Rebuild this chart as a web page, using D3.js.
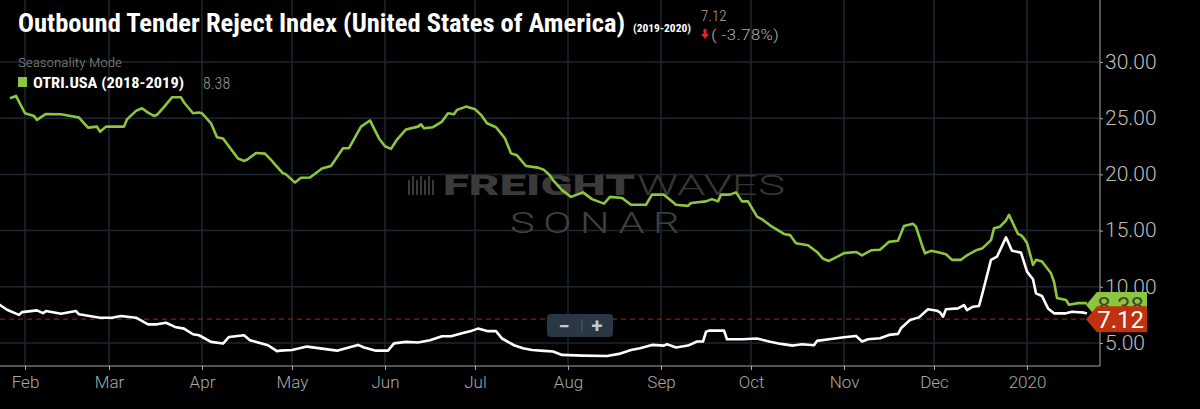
<!DOCTYPE html>
<html>
<head>
<meta charset="utf-8">
<script src="https://cdn.jsdelivr.net/npm/d3@7"></script>
<style>
  html, body { margin: 0; padding: 0; background: #000; }
  #chart { width: 1200px; height: 409px; }
  text { font-family: Roboto, "Liberation Sans", sans-serif; }
  .cond { font-family: "Roboto Condensed", "Liberation Sans Narrow", "DejaVu Sans Condensed", Roboto, sans-serif; }
</style>
</head>
<body>
<div id="chart"></div>
<script>
// --- Data ---
// Current season: OTRI.USA 2019-2020 (white line)
const currentDates = ["2019-01-23","2019-01-26","2019-01-30","2019-01-31","2019-02-05","2019-02-07","2019-02-08","2019-02-13","2019-02-18","2019-02-19","2019-02-26","2019-03-02","2019-03-05","2019-03-10","2019-03-14","2019-03-17","2019-03-20","2019-03-23","2019-03-26","2019-03-29","2019-03-31","2019-04-04","2019-04-08","2019-04-10","2019-04-15","2019-04-17","2019-04-23","2019-04-26","2019-04-27","2019-05-01","2019-05-06","2019-05-11","2019-05-16","2019-05-19","2019-05-23","2019-05-25","2019-05-29","2019-06-02","2019-06-04","2019-06-08","2019-06-12","2019-06-16","2019-06-20","2019-06-23","2019-06-27","2019-06-30","2019-07-02","2019-07-05","2019-07-08","2019-07-10","2019-07-14","2019-07-17","2019-07-20","2019-07-24","2019-07-27","2019-07-30","2019-08-06","2019-08-14","2019-08-18","2019-08-22","2019-08-25","2019-08-29","2019-09-02","2019-09-03","2019-09-06","2019-09-10","2019-09-13","2019-09-15","2019-09-16","2019-09-17","2019-09-22","2019-09-23","2019-09-28","2019-10-03","2019-10-07","2019-10-11","2019-10-15","2019-10-18","2019-10-22","2019-10-23","2019-10-27","2019-11-01","2019-11-05","2019-11-07","2019-11-09","2019-11-13","2019-11-16","2019-11-19","2019-11-20","2019-11-23","2019-11-26","2019-11-29","2019-12-02","2019-12-03","2019-12-04","2019-12-05","2019-12-09","2019-12-11","2019-12-12","2019-12-14","2019-12-16","2019-12-17","2019-12-20","2019-12-22","2019-12-25","2019-12-27","2019-12-30","2020-01-01","2020-01-03","2020-01-04","2020-01-06","2020-01-08","2020-01-10","2020-01-14","2020-01-16","2020-01-20","2020-01-21"];
const currentValues = [8.5,7.96,7.5,7.75,7.9,7.66,7.84,7.6,7.84,7.55,7.25,7.25,7.4,7.25,6.66,6.66,6.8,6.43,6.28,5.78,5.69,5.1,4.95,5.54,5.69,5.25,4.8,4.27,4.32,4.38,4.68,4.5,4.32,4.53,4.83,4.6,4.32,4.32,4.97,5.1,5.05,5.25,5.6,5.6,5.9,6.1,6.28,6.06,6.06,5.4,4.8,4.53,4.38,4.3,4.24,3.94,3.88,3.85,4.03,4.38,4.53,4.83,4.77,4.89,4.6,4.77,5.13,5.13,6.0,6.1,6.1,5.33,5.33,5.4,5.13,4.92,4.77,4.89,4.8,5.19,5.33,5.51,5.63,5.13,5.33,5.42,5.72,5.81,6.31,7.05,7.28,8.0,7.87,7.73,7.34,8.0,8.08,8.38,7.93,8.23,8.29,9.27,12.39,12.68,14.4,13.2,13.04,11.35,10.67,9.42,9.18,8.08,7.64,7.64,7.78,7.7,7.62];

// Prior season: OTRI.USA 2018-2019, shifted onto the current calendar (green line)
const priorDates = ["2019-01-27","2019-01-29","2019-02-01","2019-02-04","2019-02-05","2019-02-08","2019-02-13","2019-02-19","2019-02-22","2019-02-25","2019-02-26","2019-02-28","2019-03-06","2019-03-07","2019-03-10","2019-03-12","2019-03-14","2019-03-16","2019-03-17","2019-03-19","2019-03-22","2019-03-25","2019-03-26","2019-03-29","2019-03-31","2019-04-01","2019-04-04","2019-04-06","2019-04-08","2019-04-13","2019-04-15","2019-04-16","2019-04-19","2019-04-22","2019-04-24","2019-04-25","2019-04-28","2019-04-29","2019-05-02","2019-05-04","2019-05-07","2019-05-11","2019-05-14","2019-05-18","2019-05-20","2019-05-24","2019-05-27","2019-05-30","2019-06-01","2019-06-03","2019-06-05","2019-06-08","2019-06-12","2019-06-13","2019-06-14","2019-06-17","2019-06-20","2019-06-22","2019-06-24","2019-06-25","2019-06-28","2019-07-01","2019-07-03","2019-07-05","2019-07-08","2019-07-11","2019-07-13","2019-07-15","2019-07-18","2019-07-22","2019-07-24","2019-07-26","2019-07-27","2019-07-30","2019-08-02","2019-08-06","2019-08-09","2019-08-13","2019-08-15","2019-08-19","2019-08-22","2019-08-27","2019-08-29","2019-09-02","2019-09-06","2019-09-10","2019-09-11","2019-09-16","2019-09-18","2019-09-20","2019-09-21","2019-09-24","2019-09-26","2019-09-28","2019-09-30","2019-10-03","2019-10-05","2019-10-08","2019-10-12","2019-10-14","2019-10-16","2019-10-20","2019-10-23","2019-10-25","2019-10-27","2019-10-30","2019-11-01","2019-11-05","2019-11-07","2019-11-10","2019-11-13","2019-11-16","2019-11-19","2019-11-21","2019-11-24","2019-11-25","2019-11-27","2019-11-28","2019-11-30","2019-12-02","2019-12-05","2019-12-07","2019-12-10","2019-12-12","2019-12-15","2019-12-17","2019-12-20","2019-12-21","2019-12-23","2019-12-25","2019-12-26","2019-12-29","2019-12-30","2019-12-31","2020-01-01","2020-01-03","2020-01-04","2020-01-06","2020-01-09","2020-01-10","2020-01-11","2020-01-14","2020-01-15","2020-01-18","2020-01-21"];
const priorValues = [26.77,26.98,25.44,25.2,24.85,25.38,25.35,25.06,24.16,24.25,23.8,24.25,24.25,24.9,25.65,25.88,25.5,25.2,25.3,25.9,26.86,26.86,26.4,25.44,25.5,25.44,24.55,23.3,23.2,21.42,21.2,21.3,21.9,21.85,21.3,20.98,20.1,20.0,19.27,19.7,19.73,20.53,20.75,22.33,22.33,24.25,24.8,23.2,22.5,22.27,23.1,24.0,24.25,24.45,24.1,24.2,24.7,25.44,25.35,25.74,26.03,25.8,25.3,24.55,24.2,23.2,21.87,21.7,20.75,20.6,20.4,19.9,19.5,18.6,18.0,18.4,17.8,17.4,18.0,17.9,17.3,17.3,18.2,18.2,17.3,17.2,17.45,17.6,17.8,17.6,18.2,18.2,18.4,17.6,17.6,16.24,15.95,15.35,14.7,14.6,13.87,13.7,13.1,12.5,12.3,12.7,13.0,13.1,12.8,13.25,13.3,14.0,14.1,15.4,15.6,15.35,13.7,12.98,13.2,13.1,12.9,12.4,12.4,12.8,13.25,13.4,14.15,15.2,15.35,15.9,16.4,14.7,14.6,14.3,13.9,11.95,12.4,12.25,11.2,10.45,9.0,8.83,8.4,8.55,8.55,8.38];

const yTicks = [5, 10, 15, 20, 25, 30];
const latestCurrent = 7.12;
const latestPrior = 8.38;
const changePct = -3.78;

const titleText = "Outbound Tender Reject Index (United States of America)";
const titleRange = "(2019-2020)";
const legendLabel = "OTRI.USA (2018-2019)";

// --- Layout ---
const W = 1200, H = 409;
const plotRight = 1100, plotBottom = 366;
const GREEN = "#8cc63f", RED = "#c0310f", GRID = "#1c2630", AXIS = "#a8a8a8";

const parse = d3.utcParse("%Y-%m-%d");
const current = currentDates.map((d, i) => ({date: parse(d), value: currentValues[i]}));
const prior = priorDates.map((d, i) => ({date: parse(d), value: priorValues[i]}));

const svg = d3.select("#chart").append("svg")
    .attr("width", W).attr("height", H)
    .style("background", "#000");

// --- Scales ---
// 3px per day, Feb 1 lands at x=25
const xScale = d3.scaleUtc()
    .domain([new Date(Date.UTC(2019, 0, 23, 16)), new Date(Date.UTC(2020, 0, 25, 8))])
    .range([0, plotRight]);
const yScale = d3.scaleLinear()
    .domain([2.954, 35.516])
    .range([plotBottom, 0]);

const months = d3.utcMonth.range(xScale.domain()[0], xScale.domain()[1]);

// --- Grid ---
const grid = svg.append("g").attr("class", "grid");
grid.selectAll("line.h").data(yTicks).enter().append("line")
    .attr("x1", 0).attr("x2", plotRight)
    .attr("y1", d => yScale(d)).attr("y2", d => yScale(d))
    .attr("stroke", GRID).attr("stroke-width", 1.5);
grid.selectAll("line.v").data(months).enter().append("line")
    .attr("x1", d => xScale(d)).attr("x2", d => xScale(d))
    .attr("y1", 0).attr("y2", plotBottom)
    .attr("stroke", GRID).attr("stroke-width", 1.5);

// --- Watermark ---
const wm = svg.append("g").attr("class", "watermark");
const bars = [0, 4, 8, 12, 16, 20, 24];
wm.selectAll("rect").data(bars).enter().append("rect")
    .attr("x", d => 408 + d).attr("y", (d, i) => i % 2 ? 176 : 180)
    .attr("width", 2).attr("height", (d, i) => i % 2 ? 19 : 15)
    .attr("fill", "#3a3a3a");
wm.append("text").attr("x", 443).attr("y", 195)
    .attr("font-family", "'DejaVu Sans', sans-serif").attr("font-weight", 900)
    .attr("font-size", 27).attr("fill", "#3b3b3b")
    .attr("textLength", 192).attr("lengthAdjust", "spacingAndGlyphs")
    .text("FREIGHT");
wm.append("text").attr("x", 637).attr("y", 195)
    .attr("font-weight", 300).attr("font-size", 27).attr("fill", "#363636")
    .attr("textLength", 148).attr("lengthAdjust", "spacingAndGlyphs")
    .text("WAVES");
wm.append("text").attr("x", 510).attr("y", 233)
    .attr("font-weight", 300).attr("font-size", 29).attr("fill", "#404040")
    .attr("letter-spacing", 6)
    .attr("textLength", 178).attr("lengthAdjust", "spacingAndGlyphs")
    .text("SONAR");

// --- Latest value reference line ---
svg.append("line")
    .attr("x1", 0).attr("x2", plotRight - 15)
    .attr("y1", yScale(latestCurrent)).attr("y2", yScale(latestCurrent))
    .attr("stroke", "#7a2414").attr("stroke-width", 1.2)
    .attr("stroke-dasharray", "5,4");

// --- Lines ---
svg.append("clipPath").attr("id", "clip")
  .append("rect").attr("x", 0).attr("y", 0).attr("width", plotRight).attr("height", plotBottom);

const line = d3.line()
    .x(d => xScale(d.date))
    .y(d => yScale(d.value));

const lines = svg.append("g").attr("clip-path", "url(#clip)");
lines.append("path").datum(prior)
    .attr("d", line).attr("fill", "none")
    .attr("stroke", GREEN).attr("stroke-width", 2.6).attr("stroke-linejoin", "round");
lines.append("path").datum(current)
    .attr("d", line).attr("fill", "none")
    .attr("stroke", "#fff").attr("stroke-width", 2.6).attr("stroke-linejoin", "round");

// --- Axes ---
const xAxis = d3.axisBottom(xScale)
    .tickValues(months)
    .tickSize(4)
    .tickFormat(d => d.getUTCMonth() === 0 ? d3.utcFormat("%Y")(d) : d3.utcFormat("%b")(d));
const gx = svg.append("g").attr("transform", `translate(0,${plotBottom})`).call(xAxis);
gx.select(".domain").attr("stroke", AXIS).attr("d", `M0,0H${plotRight}`);
gx.selectAll(".tick line").attr("stroke", AXIS);
gx.selectAll(".tick text").attr("fill", AXIS).attr("font-size", 17)
    .attr("font-weight", 300).attr("y", 10).attr("dy", "0.71em")
    .attr("font-family", "Roboto, sans-serif");

const yAxis = d3.axisRight(yScale)
    .tickValues(yTicks)
    .tickSize(3)
    .tickFormat(d3.format(".2f"));
const gy = svg.append("g").attr("transform", `translate(${plotRight},0)`).call(yAxis);
gy.select(".domain").attr("stroke", AXIS).attr("d", `M0,0V${plotBottom}`);
gy.selectAll(".tick line").attr("stroke", AXIS);
gy.selectAll(".tick text").attr("fill", "#bdbdbd").attr("font-size", 21)
    .attr("font-weight", 300).attr("x", 5).attr("dy", "0.3em")
    .attr("font-family", "Roboto, sans-serif");

// --- Value badges on the right axis (drawn over the tick labels, as in SONAR) ---
function badge(value, fill, textFill) {
    const y = yScale(value);
    const x0 = plotRight - 14, x1 = plotRight - 3, x2 = 1147, h = 13;
    const g = svg.append("g");
    g.append("path")
        .attr("d", `M${x0},${y}L${x1},${y - h}H${x2}V${y + h}H${x1}Z`)
        .attr("fill", fill);
    g.append("text")
        .attr("x", 1144).attr("y", y).attr("dy", "0.36em")
        .attr("text-anchor", "end").attr("font-size", 24).attr("font-weight", 400)
        .attr("fill", textFill)
        .text(value.toFixed(2));
}
badge(latestPrior, GREEN, "#3f4a33");
badge(latestCurrent, RED, "#fff");

// --- Zoom buttons ---
const zb = svg.append("g").attr("transform", "translate(547,314)");
zb.append("rect").attr("width", 66).attr("height", 23).attr("rx", 4).attr("fill", "#2a3846");
zb.append("line").attr("x1", 35).attr("x2", 35).attr("y1", 5).attr("y2", 18).attr("stroke", "#4b5a68");
zb.append("text").attr("x", 17).attr("y", 12).attr("dy", "0.35em").attr("text-anchor", "middle")
    .attr("font-size", 20).attr("font-weight", 700).attr("fill", "#c4cad0").text("\u2212");
zb.append("text").attr("x", 50).attr("y", 12).attr("dy", "0.35em").attr("text-anchor", "middle")
    .attr("font-size", 20).attr("font-weight", 700).attr("fill", "#c4cad0").text("+");

// --- Title & legend ---
svg.append("text").attr("class", "cond")
    .attr("x", 18).attr("y", 32)
    .attr("font-size", 26).attr("font-weight", 700).attr("fill", "#fff")
    .attr("textLength", 607).attr("lengthAdjust", "spacingAndGlyphs")
    .text(titleText);
svg.append("text").attr("class", "cond")
    .attr("x", 633).attr("y", 32)
    .attr("font-size", 10).attr("font-weight", 700).attr("fill", "#fff")
    .attr("textLength", 58).attr("lengthAdjust", "spacingAndGlyphs")
    .text(titleRange);
svg.append("text").attr("class", "cond")
    .attr("x", 701).attr("y", 21)
    .attr("font-size", 15).attr("font-weight", 300).attr("fill", "#a9a9a9")
    .text(latestCurrent.toFixed(2));
svg.append("path")
    .attr("d", "M703.5,29v5h-2.5l4,5l4,-5h-2.5v-5Z")
    .attr("fill", "#e8202a");
svg.append("text").attr("class", "cond")
    .attr("x", 711).attr("y", 40)
    .attr("font-size", 15).attr("font-weight", 300).attr("fill", "#a9a9a9")
    .attr("textLength", 68).attr("lengthAdjust", "spacingAndGlyphs")
    .text(`( ${changePct.toFixed(2)}%)`);

svg.append("text").attr("class", "cond")
    .attr("x", 18).attr("y", 67)
    .attr("font-size", 13).attr("font-weight", 300).attr("fill", "#8a8a8a")
    .attr("textLength", 104).attr("lengthAdjust", "spacingAndGlyphs")
    .text("Seasonality Mode");
svg.append("rect").attr("x", 18).attr("y", 77).attr("width", 9).attr("height", 10).attr("fill", GREEN);
svg.append("text").attr("class", "cond")
    .attr("x", 33).attr("y", 88)
    .attr("font-size", 14).attr("font-weight", 700).attr("fill", "#fff")
    .attr("textLength", 151).attr("lengthAdjust", "spacingAndGlyphs")
    .text(legendLabel);
svg.append("text").attr("class", "cond")
    .attr("x", 203).attr("y", 89)
    .attr("font-size", 16).attr("font-weight", 300).attr("fill", "#9a9a9a")
    .text(latestPrior.toFixed(2));
</script>
</body>
</html>
